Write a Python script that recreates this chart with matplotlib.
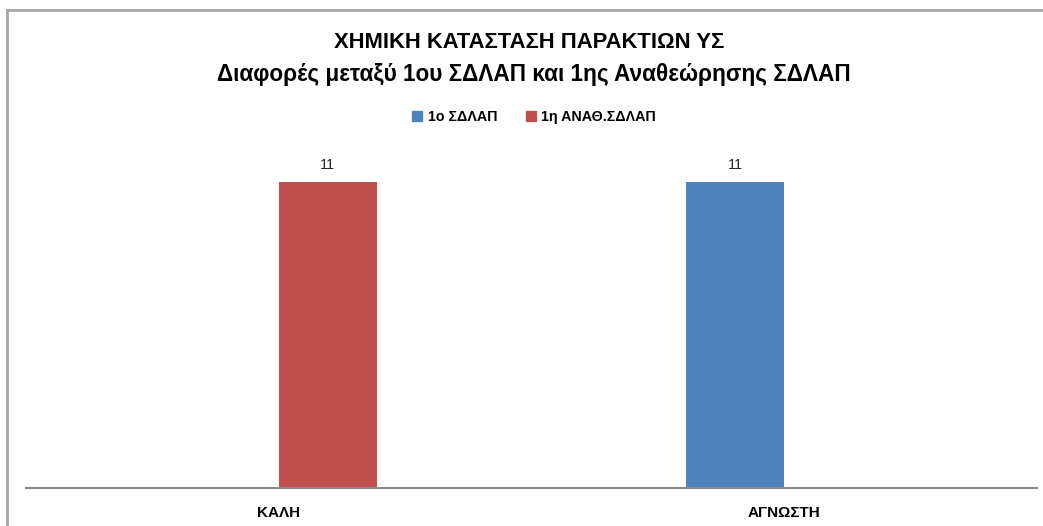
import matplotlib
matplotlib.use("Agg")
import matplotlib.pyplot as plt
from matplotlib.patches import Patch
import numpy as np

categories = ["ΚΑΛΗ", "ΑΓΝΩΣΤΗ"]
series_names = ["1ο ΣΔΛΑΠ", "1η ΑΝΑΘ.ΣΔΛΑΠ"]
sdlap_1 = [0, 11]
anath_1 = [11, 0]
colors = ["#4f81bd", "#c0504d"]

plt.rcParams["font.family"] = ["Liberation Sans", "DejaVu Sans"]

W, H = 1043, 526
fig = plt.figure(figsize=(W / 100, H / 100), dpi=100)

# chart area border (top and left visible only)
fig.add_artist(plt.Line2D([7 / W, 1], [1 - 10 / H, 1 - 10 / H], color="#a6a6a6", lw=2))
fig.add_artist(plt.Line2D([7 / W, 7 / W], [0, 1 - 10 / H], color="#a6a6a6", lw=2))

ax = fig.add_axes([26 / W, 38 / H, (1037 - 26) / W, (488 - 154) / H])

x = np.arange(len(categories))
width = 0.194
vals = [sdlap_1, anath_1]
for i, (name, v) in enumerate(zip(series_names, vals)):
    pos = x + (i - 0.5) * width
    bars = ax.bar(pos, v, width, color=colors[i], label=name, zorder=2)
    for b, val in zip(bars, v):
        if val > 0:
            ax.text(b.get_x() + b.get_width() / 2, val + 0.35, f"{val}",
                    ha="center", va="bottom", fontsize=10.5, color="#222222")

ax.set_xlim(-0.5, 1.5)
ax.set_ylim(0, 12)
ax.set_yticks([])
ax.set_xticks(x)
ax.set_xticklabels(categories, fontsize=11, fontweight="bold")
ax.tick_params(axis="x", length=0, pad=13)
for s in ["top", "right", "left"]:
    ax.spines[s].set_visible(False)
ax.spines["bottom"].set_color("#888888")
ax.spines["bottom"].set_linewidth(1.5)

fig.text(0.507, 1 - 42 / H, "ΧΗΜΙΚΗ ΚΑΤΑΣΤΑΣΗ ΠΑΡΑΚΤΙΩΝ ΥΣ", ha="center", va="center",
         fontsize=15.8, fontweight="bold")
fig.text(0.512, 1 - 74 / H, "Διαφορές μεταξύ 1ου ΣΔΛΑΠ και 1ης Αναθεώρησης ΣΔΛΑΠ",
         ha="center", va="center", fontsize=16.3, fontweight="bold")

handles = [Patch(color=c, label=n) for c, n in zip(colors, series_names)]
fig.legend(handles=handles, loc="center", bbox_to_anchor=(534 / W, 1 - 117 / H), ncol=2,
           frameon=False, prop={"size": 10.3, "weight": "bold"},
           handlelength=0.7, handleheight=0.7, columnspacing=2.0, handletextpad=0.4)

fig.savefig("out.png", dpi=100)
